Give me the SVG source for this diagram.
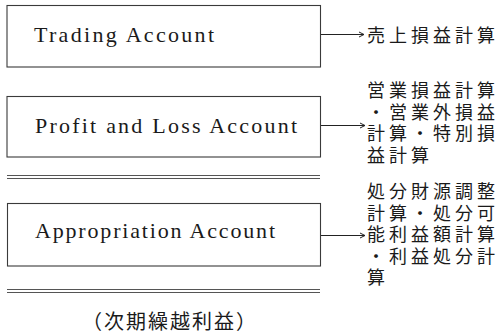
<svg xmlns="http://www.w3.org/2000/svg" width="503" height="334" viewBox="0 0 503 334">
<style>
.box{fill:none;stroke:#3a3a3a;stroke-width:1.1}
.sep{stroke:#555;stroke-width:1}
.en{font-family:"Liberation Serif","DejaVu Serif",serif;font-size:22px;fill:#1a1a1a}
.jp{font-family:"Noto Sans CJK JP","Noto Sans CJK SC",sans-serif;font-size:18px;letter-spacing:4px;fill:#1a1a1a}
.foot{font-family:"Noto Sans CJK JP","Noto Sans CJK SC",sans-serif;font-size:20px;letter-spacing:2px;fill:#1a1a1a}
.arr{stroke:#222;stroke-width:1;fill:none;marker-end:url(#ah)}
</style>
<defs>
<marker id="ah" markerWidth="8" markerHeight="8" refX="6" refY="4" orient="auto" markerUnits="userSpaceOnUse">
<path d="M1,1.5 L6,4 L1,6.5" fill="none" stroke="#222" stroke-width="1"/>
</marker>
</defs>
<g id="trading">
<rect class="box" x="7" y="5.5" width="313.5" height="61.5"/>
<text class="en" x="34" y="42" textLength="180" lengthAdjust="spacing">Trading Account</text>
</g>
<g id="pl">
<rect class="box" x="7" y="96.5" width="313.5" height="60.5"/>
<text class="en" x="35" y="133" textLength="262" lengthAdjust="spacing">Profit and Loss Account</text>
</g>
<g id="approp">
<rect class="box" x="7.5" y="203.5" width="313" height="62.5"/>
<text class="en" x="35" y="238" textLength="240" lengthAdjust="spacing">Appropriation Account</text>
</g>
<g id="separators">
<line class="sep" x1="7" y1="175.5" x2="320" y2="175.5"/>
<line class="sep" x1="7" y1="178.5" x2="320" y2="178.5"/>
<line class="sep" x1="7" y1="289.5" x2="320" y2="289.5"/>
<line class="sep" x1="7" y1="292.5" x2="320" y2="292.5"/>
</g>
<g id="connectors">
<line class="arr" x1="321" y1="34.5" x2="364" y2="34.5"/>
<line class="arr" x1="321" y1="125.5" x2="365" y2="125.5"/>
<line class="arr" x1="321" y1="235.5" x2="365" y2="235.5"/>
</g>
<g id="label1">
<text class="jp" x="367" y="42">売上損益計算</text>
</g>
<g id="label2">
<text class="jp" x="367" y="97">営業損益計算</text>
<text class="jp" x="367" y="118.5">・営業外損益</text>
<text class="jp" x="367" y="140">計算・特別損</text>
<text class="jp" x="367" y="161.5">益計算</text>
</g>
<g id="label3">
<text class="jp" x="367" y="198">処分財源調整</text>
<text class="jp" x="367" y="219.5">計算・処分可</text>
<text class="jp" x="367" y="241">能利益額計算</text>
<text class="jp" x="367" y="262.5">・利益処分計</text>
<text class="jp" x="367" y="284">算</text>
</g>
<g id="footer">
<text class="foot" x="82" y="329">（次期繰越利益）</text>
</g>
</svg>
